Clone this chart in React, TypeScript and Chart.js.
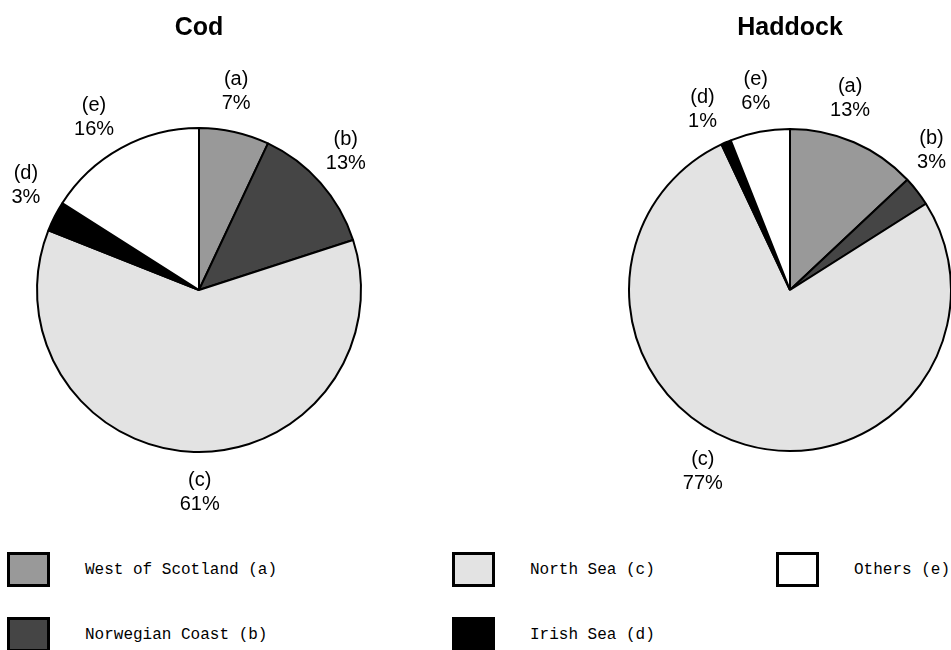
import React, { useEffect, useRef } from "react";
import { Chart, registerables } from "chart.js";

Chart.register(...registerables);

const categories = ["West of Scotland", "Norwegian Coast", "North Sea", "Irish Sea", "Others"];
const letters = ["a", "b", "c", "d", "e"];
const codValues = [7, 13, 61, 3, 16];
const haddockValues = [13, 3, 77, 1, 6];
const sliceColors = ["#999999", "#454545", "#e3e3e3", "#000000", "#ffffff"];

// label placement tweaks (degrees) to mimic the original "best fit" placement
const codLabelNudge = [-2, -2, -2, 4, -2.5];
const haddockLabelNudge = [-6, -6, 9.5, -2.4, 1];

function makeLabelPlugin(nudge: number[]) {
  return {
    id: "sliceLabels",
    afterDatasetsDraw(chart: any) {
      const ctx = chart.ctx;
      const meta = chart.getDatasetMeta(0);
      const data = chart.data.datasets[0].data as number[];
      ctx.save();
      ctx.font = "20px 'Liberation Sans', Arial, sans-serif";
      ctx.fillStyle = "#000";
      ctx.textAlign = "center";
      ctx.textBaseline = "middle";
      meta.data.forEach((arc: any, i: number) => {
        const p = arc.getProps(["x", "y", "startAngle", "endAngle", "outerRadius"], true);
        const mid = (p.startAngle + p.endAngle) / 2 + ((nudge[i] || 0) * Math.PI) / 180;
        const r = p.outerRadius + 40;
        const l1 = `(${letters[i]})`;
        const l2 = `${data[i]}%`;
        const w = Math.max(ctx.measureText(l1).width, ctx.measureText(l2).width);
        let lx = p.x + Math.cos(mid) * r;
        const ly = p.y + Math.sin(mid) * r;
        lx = Math.min(lx, chart.width - 5 - w / 2);
        lx = Math.max(lx, 5 + w / 2);
        ctx.fillText(l1, lx, ly - 12);
        ctx.fillText(l2, lx, ly + 12);
      });
      ctx.restore();
    },
  };
}

function PieChart(props: {
  title: string;
  values: number[];
  nudge: number[];
  left: number;
  width: number;
  height: number;
  radius: number;
  padLeft: number;
}) {
  const ref = useRef<HTMLCanvasElement | null>(null);
  useEffect(() => {
    if (!ref.current) return;
    const chart = new Chart(ref.current, {
      type: "pie",
      data: {
        labels: categories.map((c, i) => `${c} (${letters[i]})`),
        datasets: [
          {
            data: props.values,
            backgroundColor: sliceColors,
            borderColor: "#000000",
            borderWidth: 2,
          },
        ],
      },
      options: {
        responsive: false,
        animation: false,
        radius: props.radius,
        layout: { padding: { left: props.padLeft, right: 0, top: 0, bottom: 0 } },
        plugins: {
          legend: { display: false },
          tooltip: { enabled: false },
          title: {
            display: true,
            text: props.title,
            color: "#000",
            font: { family: "'Liberation Sans', Arial, sans-serif", size: 25, weight: "bold" },
            padding: { top: 13, bottom: 7 },
          },
        },
      } as any,
      plugins: [makeLabelPlugin(props.nudge)],
    });
    return () => chart.destroy();
  }, []);
  return (
    <canvas
      ref={ref}
      width={props.width}
      height={props.height}
      style={{ position: "absolute", left: props.left, top: 0, width: props.width, height: props.height }}
    />
  );
}

const legendCols = [7, 452, 776];
const legendRows = [552, 617];

export default function App() {
  return (
    <div style={{ position: "absolute", left: 0, top: 0, width: 951, height: 650, overflow: "hidden", background: "#fff" }}>
      <PieChart title="Cod" values={codValues} nudge={codLabelNudge} left={0} width={398} height={530} radius={162} padLeft={0} />
      <PieChart title="Haddock" values={haddockValues} nudge={haddockLabelNudge} left={560} width={391} height={530} radius={161} padLeft={69} />
      {categories.map((c, i) => {
        const col = Math.floor(i / 2);
        const row = i % 2;
        const x = legendCols[col];
        const y = legendRows[row];
        return (
          <div key={c}>
            <div
              style={{
                position: "absolute",
                left: x,
                top: y,
                width: 43,
                height: 35,
                boxSizing: "border-box",
                border: "3px solid #000",
                background: sliceColors[i],
              }}
            />
            <div
              style={{
                position: "absolute",
                left: x + 78,
                top: y + 1,
                height: 35,
                lineHeight: "35px",
                fontFamily: "'Liberation Mono', 'DejaVu Sans Mono', monospace",
                fontSize: 16,
                color: "#000",
                whiteSpace: "nowrap",
              }}
            >
              {`${c} (${letters[i]})`}
            </div>
          </div>
        );
      })}
    </div>
  );
}
